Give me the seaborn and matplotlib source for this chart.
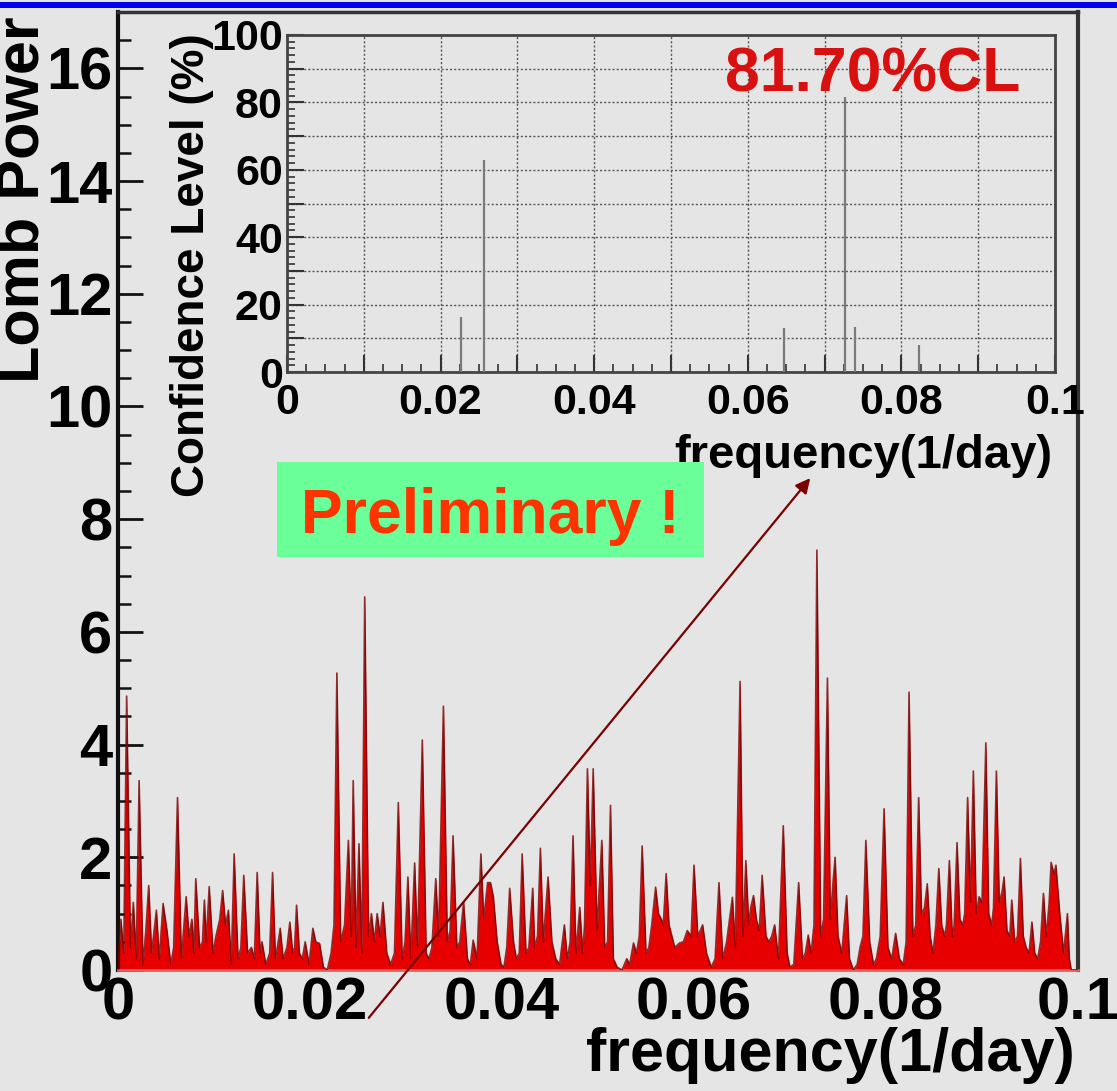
import matplotlib
matplotlib.use("Agg")
import matplotlib.pyplot as plt
from matplotlib.patches import Rectangle, FancyArrowPatch
from matplotlib.ticker import MultipleLocator
import seaborn as sns

# ---------------- data ----------------
freq = [0.0000, 0.0003, 0.0006, 0.0009, 0.0013, 0.0016, 0.0019, 0.0022, 0.0026, 0.0029,
        0.0032, 0.0035, 0.0040, 0.0043, 0.0047, 0.0051, 0.0055, 0.0058, 0.0062, 0.0066,
        0.0071, 0.0074, 0.0077, 0.0079, 0.0081, 0.0085, 0.0088, 0.0090, 0.0092, 0.0095,
        0.0099, 0.0102, 0.0106, 0.0109, 0.0112, 0.0115, 0.0118, 0.0121, 0.0125, 0.0128,
        0.0131, 0.0135, 0.0139, 0.0142, 0.0145, 0.0148, 0.0150, 0.0154, 0.0158, 0.0161,
        0.0164, 0.0166, 0.0169, 0.0172, 0.0176, 0.0179, 0.0182, 0.0184, 0.0186, 0.0189,
        0.0192, 0.0195, 0.0199, 0.0203, 0.0206, 0.0210, 0.0214, 0.0218, 0.0222, 0.0225,
        0.0228, 0.0232, 0.0236, 0.0240, 0.0243, 0.0245, 0.0248, 0.0251, 0.0254, 0.0257,
        0.0261, 0.0264, 0.0267, 0.0270, 0.0273, 0.0276, 0.0280, 0.0284, 0.0288, 0.0292,
        0.0296, 0.0299, 0.0302, 0.0305, 0.0309, 0.0312, 0.0317, 0.0321, 0.0324, 0.0327,
        0.0331, 0.0334, 0.0339, 0.0343, 0.0346, 0.0349, 0.0353, 0.0356, 0.0360, 0.0364,
        0.0367, 0.0370, 0.0374, 0.0378, 0.0381, 0.0385, 0.0388, 0.0391, 0.0395, 0.0399,
        0.0402, 0.0405, 0.0408, 0.0412, 0.0415, 0.0418, 0.0421, 0.0425, 0.0428, 0.0432,
        0.0434, 0.0437, 0.0440, 0.0443, 0.0448, 0.0452, 0.0456, 0.0460, 0.0465, 0.0468,
        0.0471, 0.0474, 0.0477, 0.0481, 0.0484, 0.0486, 0.0489, 0.0492, 0.0495, 0.0499,
        0.0504, 0.0507, 0.0510, 0.0513, 0.0516, 0.0520, 0.0525, 0.0530, 0.0533, 0.0537,
        0.0540, 0.0543, 0.0546, 0.0550, 0.0553, 0.0556, 0.0560, 0.0563, 0.0566, 0.0568,
        0.0571, 0.0574, 0.0577, 0.0580, 0.0585, 0.0589, 0.0593, 0.0597, 0.0600, 0.0604,
        0.0609, 0.0613, 0.0618, 0.0622, 0.0626, 0.0630, 0.0634, 0.0637, 0.0640, 0.0643,
        0.0648, 0.0651, 0.0654, 0.0657, 0.0659, 0.0662, 0.0665, 0.0668, 0.0671, 0.0675,
        0.0678, 0.0681, 0.0684, 0.0688, 0.0693, 0.0697, 0.0700, 0.0704, 0.0709, 0.0713,
        0.0716, 0.0719, 0.0722, 0.0725, 0.0728, 0.0732, 0.0735, 0.0739, 0.0742, 0.0745,
        0.0747, 0.0750, 0.0754, 0.0759, 0.0762, 0.0766, 0.0770, 0.0773, 0.0776, 0.0779,
        0.0783, 0.0787, 0.0790, 0.0794, 0.0798, 0.0802, 0.0806, 0.0810, 0.0814, 0.0818,
        0.0821, 0.0824, 0.0828, 0.0831, 0.0834, 0.0837, 0.0840, 0.0843, 0.0846, 0.0849,
        0.0852, 0.0855, 0.0858, 0.0861, 0.0863, 0.0866, 0.0869, 0.0871, 0.0874, 0.0877,
        0.0880, 0.0882, 0.0885, 0.0888, 0.0891, 0.0894, 0.0897, 0.0900, 0.0904, 0.0907,
        0.0910, 0.0912, 0.0915, 0.0918, 0.0921, 0.0923, 0.0926, 0.0929, 0.0931, 0.0934,
        0.0937, 0.0940, 0.0943, 0.0946, 0.0949, 0.0952, 0.0955, 0.0958, 0.0961, 0.0964,
        0.0967, 0.0970, 0.0972, 0.0975, 0.0977, 0.0981, 0.0985, 0.0989, 0.0991, 0.0993,
        0.1000]
power = [0.0, 0.9, 0.3, 4.86, 0.4, 1.2, 0.2, 3.36, 0.1, 0.7,
         1.5, 0.3, 1.06, 0.2, 1.18, 0.7, 0.1, 0.4, 3.06, 0.2,
         1.3, 0.6, 0.9, 0.3, 1.62, 0.4, 0.5, 1.24, 0.5, 1.48,
         0.3, 0.6, 0.9, 1.41, 0.8, 1.06, 0.1, 2.06, 0.2, 0.4,
         1.68, 0.3, 0.4, 0.2, 1.73, 0.3, 0.5, 0.1, 0.3, 1.73,
         0.2, 0.4, 0.74, 0.2, 0.4, 0.85, 0.3, 0.4, 1.15, 0.3,
         0.2, 0.5, 0.1, 0.74, 0.5, 0.47, 0.05, 0.0, 0.3, 0.8,
         5.27, 0.5, 0.8, 2.3, 0.6, 3.36, 0.4, 2.24, 0.3, 6.62,
         0.6, 1.0, 0.5, 1.0, 0.6, 1.2, 0.3, 0.1, 0.3, 2.97,
         0.2, 0.5, 1.65, 0.2, 1.9, 0.4, 4.08, 0.3, 0.2, 0.4,
         1.62, 0.6, 4.68, 0.5, 0.7, 2.38, 0.4, 0.5, 1.2, 0.2,
         0.1, 0.53, 0.2, 2.06, 0.9, 1.55, 1.55, 1.3, 0.5, 0.1,
         0.05, 0.4, 1.45, 0.5, 0.2, 0.3, 2.06, 0.3, 0.4, 1.45,
         0.4, 0.6, 2.16, 0.5, 1.65, 0.5, 0.2, 0.1, 0.8, 0.2,
         0.5, 2.38, 0.3, 1.11, 0.3, 0.8, 3.57, 1.5, 3.57, 0.7,
         2.3, 0.4, 0.5, 2.92, 0.2, 0.05, 0.0, 0.2, 0.1, 0.48,
         0.3, 0.6, 2.2, 0.3, 0.4, 0.8, 1.47, 1.0, 0.9, 0.8,
         1.71, 0.8, 0.6, 0.4, 0.48, 0.5, 0.7, 0.6, 1.86, 0.6,
         0.8, 0.3, 0.05, 0.2, 1.55, 0.2, 0.5, 0.9, 1.29, 0.4,
         5.12, 0.6, 1.94, 0.8, 1.1, 1.32, 0.9, 0.7, 1.68, 0.6,
         0.5, 0.6, 0.8, 0.2, 2.56, 0.3, 0.05, 0.1, 1.55, 0.2,
         0.3, 0.62, 0.3, 0.8, 7.45, 0.6, 0.9, 5.18, 0.9, 1.6,
         2.0, 0.6, 0.3, 1.32, 0.2, 0.0, 0.1, 0.4, 0.6, 2.3,
         0.5, 0.1, 0.2, 0.6, 2.86, 0.4, 0.2, 0.65, 0.2, 0.1,
         0.5, 4.93, 0.6, 0.8, 3.06, 1.0, 1.1, 1.53, 0.6, 0.3,
         0.8, 1.8, 0.8, 0.6, 0.8, 1.94, 0.6, 0.8, 2.26, 0.9,
         0.8, 1.0, 3.06, 1.2, 3.53, 1.0, 1.3, 1.2, 4.03, 1.0,
         0.8, 1.1, 3.53, 1.2, 1.4, 1.65, 0.7, 0.6, 1.24, 0.5,
         0.6, 1.98, 0.6, 0.4, 0.3, 0.85, 0.3, 0.2, 0.5, 1.36,
         0.6, 1.2, 1.91, 1.7, 1.86, 1.0, 0.3, 1.0, 0.2, 0.0,
         0.0]

# inset: confidence level spikes
cl_freq = [0.0227, 0.0256, 0.0647, 0.0727, 0.0740, 0.0823]
cl_value = [16.3, 63.0, 13.0, 81.7, 13.4, 8.0]

main_xticks = [0.0, 0.02, 0.04, 0.06, 0.08, 0.1]
main_xticklabels = ["0", "0.02", "0.04", "0.06", "0.08", "0.1"]
inset_yticks = [0, 10, 20, 30, 40, 50, 60, 70, 80, 90, 100]
inset_yticklabels = ["0", "", "20", "", "40", "", "60", "", "80", "", "100"]
inset_xticks = [0.0, 0.01, 0.02, 0.03, 0.04, 0.05, 0.06, 0.07, 0.08, 0.09, 0.1]
inset_xticklabels = ["0", "", "0.02", "", "0.04", "", "0.06", "", "0.08", "", "0.1"]

# ---------------- style ----------------
sns.set_theme(style="white")
plt.rcParams["font.family"] = ["Liberation Sans", "DejaVu Sans"]
plt.rcParams["font.weight"] = "bold"
for key in ["text.color", "axes.labelcolor", "xtick.color", "ytick.color"]:
    plt.rcParams[key] = "black"
BG = "#e5e5e5"

W, H = 1117, 1091
fig = plt.figure(figsize=(W / 100, H / 100), dpi=100, facecolor=BG)


def fx(px):
    return px / W


def fy(py):
    return 1 - py / H


# ---------------- main axes ----------------
ax = fig.add_axes([fx(118), fy(970), fx(1078) - fx(118), fy(12) - fy(970)], facecolor=BG)
ax.fill_between(freq, power, 0, color="#e60000", lw=0, zorder=2)
sns.lineplot(x=freq, y=power, ax=ax, color="#7a0000", lw=1.2, alpha=0.8,
             estimator=None, sort=False, zorder=3)
ax.set_xlim(0, 0.1)
ax.set_ylim(0, 17)
ax.set_xlabel("")
ax.set_ylabel("")
ax.set_xticks(main_xticks)
ax.set_xticklabels(main_xticklabels)
ax.tick_params(axis="x", length=0, labelsize=43, pad=5, labelcolor="black")
ax.yaxis.set_major_locator(MultipleLocator(2))
ax.yaxis.set_minor_locator(MultipleLocator(0.5))
ax.tick_params(axis="y", which="major", direction="in", length=18, width=2,
               labelsize=43, pad=4, left=True, color="#111111", labelcolor="black")
ax.tick_params(axis="y", which="minor", direction="in", length=9, width=1.8,
               left=True, color="#111111")
for lab in ax.get_xticklabels() + ax.get_yticklabels():
    lab.set_fontweight("bold")
ax.spines["left"].set_color("#111111")
ax.spines["left"].set_linewidth(3)
ax.spines["top"].set_color("#333333")
ax.spines["top"].set_linewidth(2.5)
ax.spines["right"].set_color("#333333")
ax.spines["right"].set_linewidth(3)
ax.spines["bottom"].set_color("#e06060")
ax.spines["bottom"].set_linewidth(2)

fig.text(fx(1075), fy(1027), "frequency(1/day)", ha="right", va="top",
         fontsize=44, fontweight="bold", color="black")
fig.text(fx(23), fy(16), "Lomb Power", rotation=90, ha="center", va="top",
         fontsize=44, fontweight="bold", color="black")

# ---------------- inset axes ----------------
ax2 = fig.add_axes([fx(287), fy(372), fx(1055) - fx(287), fy(35) - fy(372)], facecolor=BG)
ax2.set_zorder(5)
ax2.vlines(cl_freq, 0, cl_value, color="#7a7a7a", lw=1.6, zorder=3)
ax2.set_xlim(0, 0.1)
ax2.set_ylim(0, 100)
ax2.set_xticks(inset_xticks)
ax2.set_xticklabels(inset_xticklabels)
ax2.set_yticks(inset_yticks)
ax2.set_yticklabels(inset_yticklabels)
ax2.xaxis.set_minor_locator(MultipleLocator(0.0025))
ax2.yaxis.set_minor_locator(MultipleLocator(2))
ax2.grid(True, which="major", linestyle=(0, (1.5, 1.5)), color="#555555", lw=1.0, zorder=1)
ax2.tick_params(axis="both", which="major", direction="in", length=12, width=1.5,
                labelsize=31, color="#333333", labelcolor="black", bottom=True, left=True)
ax2.tick_params(axis="x", which="major", pad=8)
ax2.tick_params(axis="y", which="major", pad=3)
ax2.tick_params(axis="both", which="minor", direction="in", length=6, width=1.2,
                color="#333333", bottom=True, left=True)
for lab in ax2.get_xticklabels() + ax2.get_yticklabels():
    lab.set_fontweight("bold")
for s in ax2.spines.values():
    s.set_color("#444444")
    s.set_linewidth(2)

fig.text(fx(1052), fy(434), "frequency(1/day)", ha="right", va="top",
         fontsize=34, fontweight="bold", color="black", zorder=10)
fig.text(fx(192), fy(33), "Confidence Level (%)", rotation=90, ha="center", va="top",
         fontsize=33, fontweight="bold", color="black", zorder=10)
ax2.text(0.955, 0.97, "81.70%CL", transform=ax2.transAxes, ha="right", va="top",
         fontsize=45, fontweight="bold", color="#d81010")

# ---------------- annotations ----------------
fig.patches.append(Rectangle((0, fy(8)), 1, fy(2) - fy(8), transform=fig.transFigure,
                             facecolor="#0000ee", edgecolor="none", zorder=20))
fig.patches.append(Rectangle((fx(277), fy(557)), fx(704) - fx(277), fy(462) - fy(557),
                             transform=fig.transFigure, facecolor="#6aff98",
                             edgecolor="none", zorder=20))
fig.text(fx(490), fy(533), "Preliminary !", ha="center", va="baseline", fontsize=45,
         fontweight="bold", color="#ff3300", zorder=21)
arrow = FancyArrowPatch((fx(367), fy(1020)), (fx(812), fy(476)), transform=fig.transFigure,
                        arrowstyle="-|>", mutation_scale=22, color="#7a0000", lw=1.6,
                        zorder=22)
fig.patches.append(arrow)

fig.savefig("out.png", dpi=100, facecolor=BG)
